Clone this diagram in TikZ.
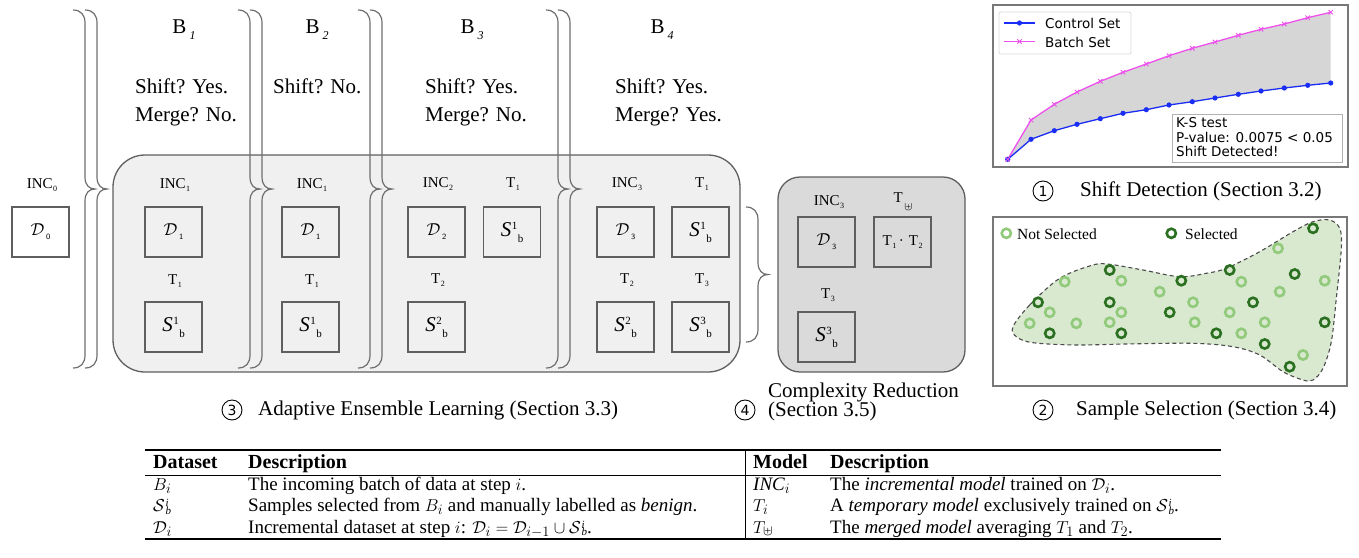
\documentclass[tikz,border=0pt]{standalone}
\usepackage{fontspec}
\setmainfont{Liberation Serif}
\newfontfamily\plotfont{DejaVu Sans}
\usetikzlibrary{calc}

\definecolor{edgegray}{RGB}{95,95,95}
\definecolor{bracegray}{RGB}{110,110,110}
\definecolor{panelA}{RGB}{240,240,240}
\definecolor{panelB}{RGB}{218,218,218}
\definecolor{ctrlblue}{RGB}{25,45,245}
\definecolor{batchpink}{RGB}{238,80,238}
\definecolor{areagray}{RGB}{214,214,214}
\definecolor{blobgreen}{RGB}{216,233,208}
\definecolor{lightring}{RGB}{146,202,124}
\definecolor{darkring}{RGB}{42,112,32}
\definecolor{framegray}{RGB}{120,120,120}

% small lowered index used in the INC / T labels
\newcommand\lblsub[1]{\kern0.6pt\raisebox{-3.5pt}{\fontsize{8}{8}\selectfont #1}}
% dataset D_i inside a box
\newcommand\Dset[1]{$\mathcal{D}$\kern1.5pt\raisebox{-4pt}{\fontsize{8}{8}\selectfont\sffamily #1}}
% selected samples S^i_b inside a box
\newcommand\Sset[1]{\textit{S}\kern0.6pt\raisebox{7pt}{\fontsize{11}{11}\selectfont #1}\kern0.4pt\raisebox{-6pt}{\fontsize{11}{11}\selectfont b}}
% batch name B_i
\newcommand\Bname[1]{B\kern3pt\raisebox{-6pt}{\fontsize{12}{12}\selectfont\itshape #1}}
% S^i_b in the notation table, scripts set close to the letter
\newcommand\Sbi{$\mathcal{S}$\kern0.6pt\rlap{\raisebox{5pt}{\fontsize{11}{11}\selectfont\itshape i}}\raisebox{-2.5pt}{\fontsize{11}{11}\selectfont\itshape b}}

% a right curly brace with its vertical stroke at x=#1, from y=#2 to y=#3
\newcommand\drawbrace[3]{%
  \draw[bracestroke] ({#1-12},#2) .. controls ({#1-4},#2) and (#1,{#2+5}) .. (#1,{#2+13})
    -- (#1,{(#2+#3)/2-12}) .. controls (#1,{(#2+#3)/2-4}) and ({#1+4},{(#2+#3)/2}) .. ({#1+10},{(#2+#3)/2})
    .. controls ({#1+4},{(#2+#3)/2}) and (#1,{(#2+#3)/2+4}) .. (#1,{(#2+#3)/2+12})
    -- (#1,{#3-13}) .. controls (#1,{#3-5}) and ({#1-4},#3) .. ({#1-12},#3);}

\begin{document}
\begin{tikzpicture}[x=1pt,y=-1pt,
  bracestroke/.style={draw=bracegray, line width=1.2pt},
  cell/.style={draw=edgegray, line width=1.2pt, minimum width=57pt, minimum height=50pt, inner sep=0pt},
  dcell/.style={cell, font=\fontsize{18}{18}\selectfont},
  scell/.style={cell, font=\fontsize{21}{21}\selectfont},
  mlabel/.style={inner sep=0pt, font=\fontsize{15}{15}\selectfont},
  bigtext/.style={inner sep=0pt, font=\fontsize{21}{21}\selectfont, anchor=west},
  bname/.style={inner sep=0pt, font=\fontsize{21}{21}\selectfont},
  numcirc/.style={circle, draw=black, line width=0.9pt, minimum size=20pt, inner sep=0pt, font=\plotfont\fontsize{14}{14}\selectfont},
  plottext/.style={inner sep=0pt, anchor=west, font=\plotfont\fontsize{13.5}{13.5}\selectfont},
  tabtext/.style={inner sep=0pt, anchor=base west, font=\fontsize{19}{19}\selectfont},
  tabhead/.style={tabtext, font=\fontsize{20}{20}\selectfont\bfseries},
  lring/.style={draw=lightring, line width=2.6pt},
  dring/.style={draw=darkring, line width=2.6pt}]
\useasboundingbox (0,0) rectangle (1359,557);

% ---------------- adaptive ensemble learning ----------------
\draw[draw=edgegray, fill=panelA, line width=1.3pt, rounded corners=32pt] (113,155) rectangle (740,372);

\drawbrace{85}{10}{368}
\drawbrace{97}{10}{368}
\drawbrace{250}{10}{368}
\drawbrace{262}{10}{368}
\drawbrace{370}{10}{368}
\drawbrace{382}{10}{368}
\drawbrace{558}{10}{368}
\drawbrace{570}{10}{368}

% batch headers
\node[bname] (b1) at (184,30) {\Bname{1}};
\node[bname] (b2) at (317,30) {\Bname{2}};
\node[bname] (b3) at (472,30) {\Bname{3}};
\node[bname] (b4) at (662,30) {\Bname{4}};

\node[bigtext] (s1) at (135,86) {Shift? Yes.};
\node[bigtext] (m1) at (135,117) {Merge? No.};
\node[bigtext] (s2) at (273,86) {Shift? No.};
\node[bigtext] (s3) at (425,86) {Shift? Yes.};
\node[bigtext] (m3) at (425,117) {Merge? No.};
\node[bigtext] (s4) at (615,86) {Shift? Yes.};
\node[bigtext] (m4) at (615,117) {Merge? Yes.};

% step 0
\node[mlabel] (inc0) at (42,185) {INC\lblsub{0}};
\node[dcell] (d0) at (40.5,232) {\Dset{0}};

% step 1
\node[mlabel] (inc1a) at (175,185) {INC\lblsub{1}};
\node[dcell] (d1a) at (173.5,232) {\Dset{1}};
\node[mlabel] (t1a) at (175,281) {T\lblsub{1}};
\node[scell] (s1a) at (173.5,327) {\Sset{1}};

% step 2
\node[mlabel] (inc1b) at (312,185) {INC\lblsub{1}};
\node[dcell] (d1b) at (310.5,232) {\Dset{1}};
\node[mlabel] (t1b) at (312,281) {T\lblsub{1}};
\node[scell] (s1b) at (310.5,327) {\Sset{1}};

% step 3
\node[mlabel] (inc2c) at (438,184) {INC\lblsub{2}};
\node[dcell] (d2c) at (436.5,232) {\Dset{2}};
\node[mlabel] (t1c) at (513,184) {T\lblsub{1}};
\node[scell] (s1c) at (512,232) {\Sset{1}};
\node[mlabel] (t2c) at (438,280) {T\lblsub{2}};
\node[scell] (s2c) at (436.5,327) {\Sset{2}};

% step 4
\node[mlabel] (inc3d) at (627,184) {INC\lblsub{3}};
\node[dcell] (d3d) at (625.5,232) {\Dset{3}};
\node[mlabel] (t1d) at (702,184) {T\lblsub{1}};
\node[scell] (s1d) at (700.5,232) {\Sset{1}};
\node[mlabel] (t2d) at (627,280) {T\lblsub{2}};
\node[scell] (s2d) at (625.5,327) {\Sset{2}};
\node[mlabel] (t3d) at (702,280) {T\lblsub{3}};
\node[scell] (s3d) at (700.5,327) {\Sset{3}};

\node[numcirc] (c3) at (232,410) {3};
\node[bigtext] (cap3) at (258,410) {Adaptive Ensemble Learning (Section 3.3)};

% ---------------- complexity reduction ----------------
\drawbrace{758}{207}{342}
\draw[draw=edgegray, fill=panelB, line width=1.3pt, rounded corners=22pt] (778,177) rectangle (965,372);
\node[mlabel] (inc3e) at (829,202) {INC\lblsub{3}};
\node[dcell] (d3e) at (826.5,242) {\Dset{3}};
\node[mlabel] (tme) at (903,202) {T\kern1.5pt\raisebox{-8pt}{\fontsize{13}{13}\selectfont$\uplus$}};
\node[cell, font=\fontsize{15}{15}\selectfont] (t12e) at (902.5,242) {T\lblsub{1}\,\textperiodcentered\,\,T\lblsub{2}};
\node[mlabel] (t3e) at (828,295) {T\lblsub{3}};
\node[scell] (s3e) at (826.5,337) {\Sset{3}};

\node[numcirc] (c4) at (745,410) {4};
\node[bigtext] (cap4a) at (768,392) {Complexity Reduction};
\node[bigtext] (cap4b) at (768,411) {(Section 3.5)};

% ---------------- shift detection plot ----------------
\draw[draw=framegray, line width=1.5pt] (993,5) rectangle (1348,167);
\fill[areagray] (1007.7,159.3) -- (1031,120) -- (1054.3,104.3) -- (1077,92) -- (1100.3,81.3) -- (1123,72.3)
  -- (1146.3,64) -- (1169,55.7) -- (1192.3,48.3) -- (1215,42) -- (1238.3,35.3) -- (1261,29.3)
  -- (1284.3,24) -- (1307.7,17.7) -- (1330.7,12.3)
  -- (1330.7,83) -- (1307.7,85.3) -- (1284.3,88) -- (1261,91) -- (1238.3,94.3) -- (1215,98)
  -- (1192.3,101.7) -- (1169,105) -- (1146.3,109.7) -- (1123,113.3) -- (1100.3,118.7) -- (1077,124.3)
  -- (1054.3,130.7) -- (1031,139.3) -- cycle;
\draw[batchpink, line width=1.3pt] (1007.7,159.3) -- (1031,120) -- (1054.3,104.3) -- (1077,92) -- (1100.3,81.3) -- (1123,72.3)
  -- (1146.3,64) -- (1169,55.7) -- (1192.3,48.3) -- (1215,42) -- (1238.3,35.3) -- (1261,29.3)
  -- (1284.3,24) -- (1307.7,17.7) -- (1330.7,12.3);
\draw[ctrlblue, line width=1.3pt] (1007.7,159.3) -- (1031,139.3) -- (1054.3,130.7) -- (1077,124.3) -- (1100.3,118.7) -- (1123,113.3)
  -- (1146.3,109.7) -- (1169,105) -- (1192.3,101.7) -- (1215,98) -- (1238.3,94.3) -- (1261,91)
  -- (1284.3,88) -- (1307.7,85.3) -- (1330.7,83);
\foreach \px/\py in {1007.7/159.3,1031/139.3,1054.3/130.7,1077/124.3,1100.3/118.7,1123/113.3,1146.3/109.7,
  1169/105,1192.3/101.7,1215/98,1238.3/94.3,1261/91,1284.3/88,1307.7/85.3,1330.7/83}
  \fill[ctrlblue] (\px,\py) circle[radius=2.6pt];
\foreach \px/\py in {1007.7/159.3,1031/120,1054.3/104.3,1077/92,1100.3/81.3,1123/72.3,1146.3/64,
  1169/55.7,1192.3/48.3,1215/42,1238.3/35.3,1261/29.3,1284.3/24,1307.7/17.7,1330.7/12.3}
  \draw[batchpink, line width=0.9pt] ($(\px,\py)+(-2.2,-2.2)$) -- ($(\px,\py)+(2.2,2.2)$)
    ($(\px,\py)+(-2.2,2.2)$) -- ($(\px,\py)+(2.2,-2.2)$);

% legend
\draw[draw=black!15, fill=white, line width=0.8pt, rounded corners=2pt] (999,12) rectangle (1131,54);
\draw[ctrlblue, line width=1.3pt] (1004,23) -- (1035,23);
\fill[ctrlblue] (1019.5,23) circle[radius=2.6pt];
\node[plottext] (lgc) at (1045,23) {Control Set};
\draw[batchpink, line width=1.3pt] (1004,41.5) -- (1035,41.5);
\draw[batchpink, line width=0.9pt] (1017.3,39.3) -- (1021.7,43.7) (1017.3,43.7) -- (1021.7,39.3);
\node[plottext] (lgb) at (1045,42) {Batch Set};

% test result
\draw[draw=black!30, fill=white, line width=0.8pt] (1172,114) rectangle (1342,162);
\node[plottext] (ks1) at (1176,123) {K-S test};
\node[plottext] (ks2) at (1176,137) {P-value: 0.0075 < 0.05};
\node[plottext] (ks3) at (1176,151) {Shift Detected!};

\node[numcirc] (c1) at (1043,191) {1};
\node[bigtext] (cap1) at (1080,191) {Shift Detection (Section 3.2)};

% ---------------- sample selection ----------------
\draw[draw=framegray, line width=1.5pt] (993,217) rectangle (1347,386);
\draw[draw=black!70, fill=blobgreen, line width=1.1pt, dash pattern=on 4pt off 3pt]
  plot[smooth cycle, tension=0.55] coordinates {
  (1013,326.7) (1029.7,305) (1059.7,278.3) (1093,265) (1109.7,264.3) (1143,270) (1179.7,276.7)
  (1206.3,273.3) (1226.3,268.3) (1259.7,251.7) (1293,231.7) (1313,221.7) (1329.7,220)
  (1339.7,228.3) (1341.3,248.3) (1336.3,298.3) (1331.3,341.7) (1323,368.3) (1313,380)
  (1303,380) (1283,371.7) (1259.7,355) (1233,346.7) (1193,343.3) (1126.3,344) (1076.3,345)
  (1033,342.7) (1016.3,336.7)};
\foreach \px/\py in {1064.7/281.7,1121.3/280.7,1159.7/291.7,1241.3/281.7,1278/248.3,1279.7/291.7,
  1324.7/280.7,1049.7/312.3,1029.7/323.3,1076.3/323.3,1109.7/322.3,1121.3/312.3,1193/302.3,
  1229.7/312.3,1194.7/322.3,1264.7/322.3,1241.3/333.3,1303/355}
  \draw[lring] (\px,\py) circle[radius=4.6pt];
\foreach \px/\py in {1109.7/270,1181.3/280.7,1229.7/270,1294.7/274,1313/228.3,1038/302.3,1109.7/302.3,
  1169.7/312.3,1253/302.3,1049.7/333.3,1121.3/333.3,1216.3/333.3,1264.7/344,1324.7/322.3,1289.7/366.7}
  \draw[dring] (\px,\py) circle[radius=4.6pt];
\draw[lring] (1006.3,233.3) circle[radius=4.6pt];
\node[inner sep=0pt, anchor=west, font=\fontsize{15.5}{15.5}\selectfont] (lgn) at (1017,234) {Not Selected};
\draw[dring] (1171.3,233.3) circle[radius=4.6pt];
\node[inner sep=0pt, anchor=west, font=\fontsize{15.5}{15.5}\selectfont] (lgs) at (1185,234) {Selected};

\node[numcirc] (c2) at (1043,410) {2};
\node[bigtext] (cap2) at (1076,410) {Sample Selection (Section 3.4)};

% ---------------- notation table ----------------
\draw[line width=1.3pt] (145,450) -- (1221,450);
\draw[line width=0.7pt] (145,475) -- (1221,475);
\draw[line width=1.3pt] (145,539) -- (1221,539);
\draw[line width=0.7pt] (745,450) -- (745,539);

\node[tabhead] (hd1) at (153,468) {Dataset};
\node[tabhead] (hd2) at (248,468) {Description};
\node[tabhead] (hm1) at (753,468) {Model};
\node[tabhead] (hm2) at (830,468) {Description};

\node[tabtext] (r1a) at (153,490.5) {$B_i$};
\node[tabtext] (r1b) at (248,490.5) {The incoming batch of data at step $i$.};
\node[tabtext] (r2a) at (153,511.5) {\Sbi};
\node[tabtext] (r2b) at (248,511.5) {Samples selected from $B_i$ and manually labelled as \textit{benign}.};
\node[tabtext] (r3a) at (153,533) {$\mathcal{D}_i$};
\node[tabtext] (r3b) at (248,533) {Incremental dataset at step $i$: $\mathcal{D}_i = \mathcal{D}_{i-1} \cup{}$\Sbi.};

\node[tabtext] (q1a) at (753,490.5) {$\mathit{INC}_i$};
\node[tabtext] (q1b) at (830,490.5) {The \textit{incremental model} trained on $\mathcal{D}_i$.};
\node[tabtext] (q2a) at (753,511.5) {$T_i$};
\node[tabtext] (q2b) at (830,511.5) {A \textit{temporary model} exclusively trained on \Sbi.};
\node[tabtext] (q3a) at (753,533) {$T_{\uplus}$};
\node[tabtext] (q3b) at (830,533) {The \textit{merged model} averaging $T_1$ and $T_2$.};
\end{tikzpicture}
\end{document}
